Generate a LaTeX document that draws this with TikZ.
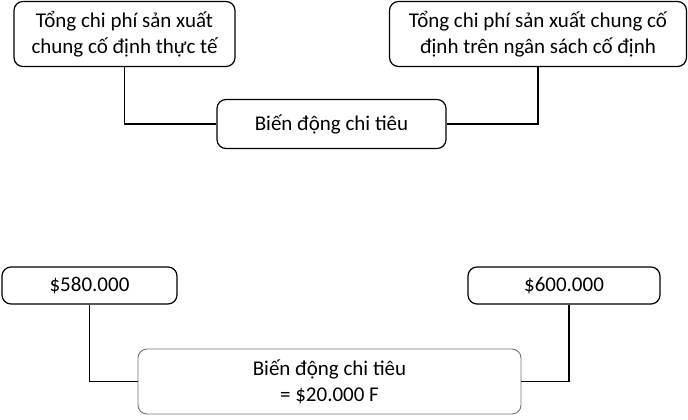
\documentclass[tikz,border=0pt]{standalone}
\usepackage{fontspec}
\setmainfont{Carlito}
\begin{document}
\begin{tikzpicture}[x=1pt,y=-1pt,
  box/.style={draw=black, line width=1.2pt, rounded corners=9pt, align=center, inner sep=0pt, font=\fontsize{21}{26}\selectfont},
  softbox/.style={draw=black!55, line width=0.9pt, rounded corners=9pt, align=center, inner sep=0pt, font=\fontsize{21}{26}\selectfont},
  link/.style={draw=black, line width=1.2pt}]
\useasboundingbox (0,0) rectangle (688,420);
\node[box, minimum width=221pt, minimum height=65pt] (a) at (124.5,34) {Tổng chi phí sản xuất\\chung cố định thực tế};
\node[box, minimum width=297pt, minimum height=65pt] (b) at (538,34) {Tổng chi phí sản xuất chung cố\\định trên ngân sách cố định};
\node[box, minimum width=229pt, minimum height=49pt] (c) at (331.5,124) {Biến động chi tiêu};
\node[box, minimum width=175pt, minimum height=37pt] (d) at (89.5,285.5) {\$580.000};
\node[box, minimum width=192pt, minimum height=37pt] (e) at (564,285.5) {\$600.000};
\node[softbox, minimum width=383pt, minimum height=65pt] (f) at (329.5,381.5) {Biến động chi tiêu\\= \$20.000 F};
\draw[link] (a.south) |- (c.west);
\draw[link] (b.south) |- (c.east);
\draw[link] (d.south) |- (f.west);
\draw[link] ([xshift=5pt]e.south) |- (f.east);
\end{tikzpicture}
\end{document}
